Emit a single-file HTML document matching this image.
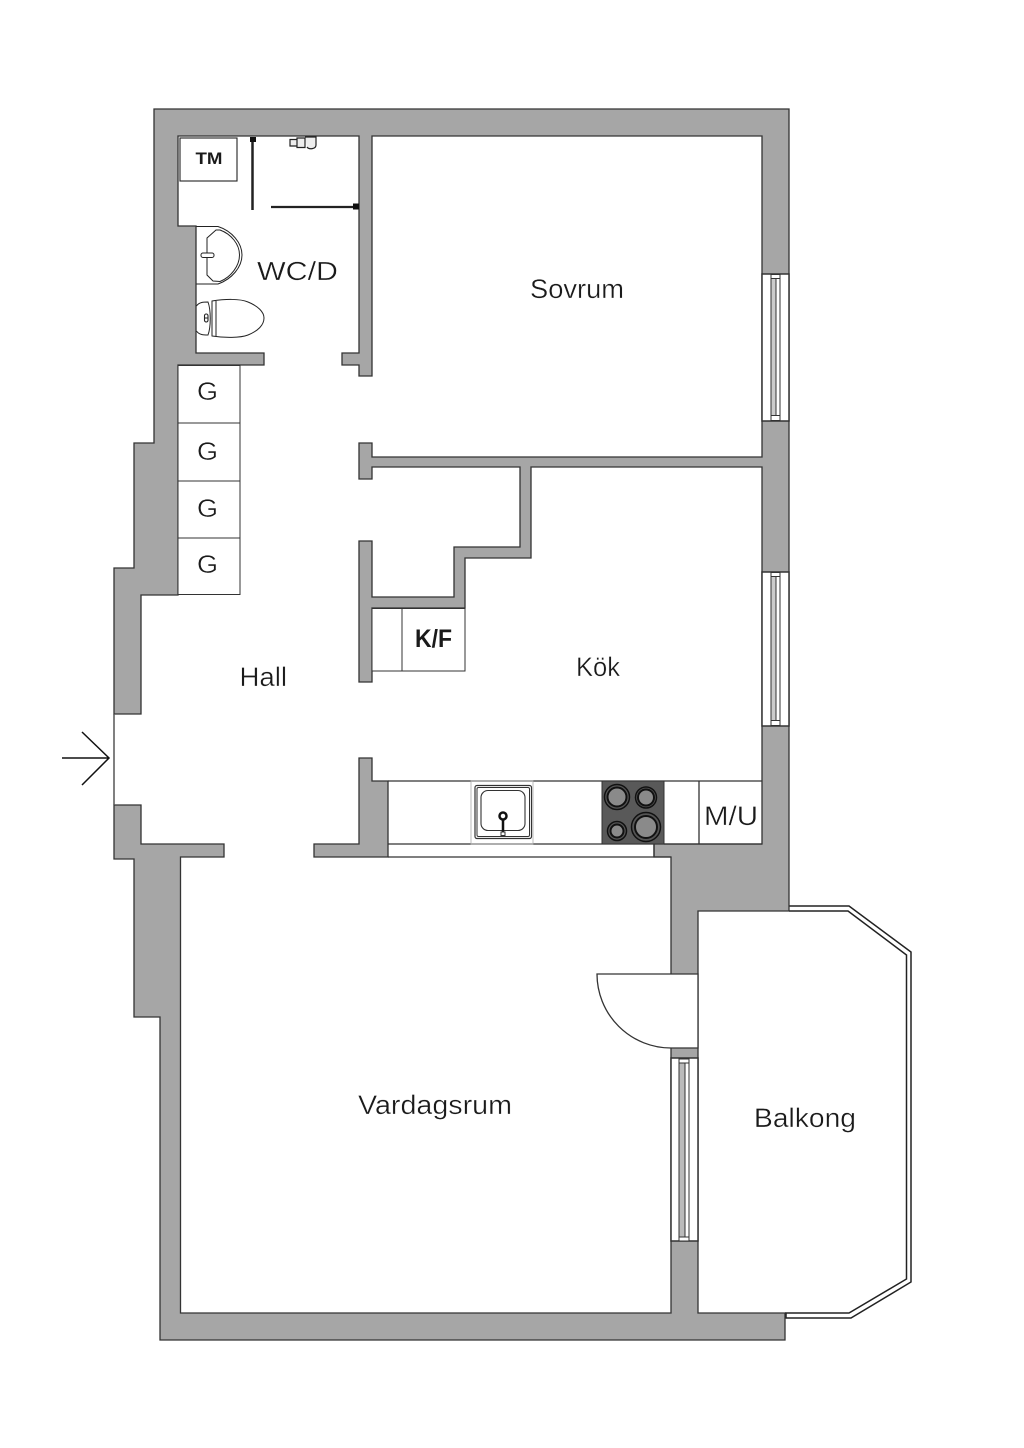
<!DOCTYPE html>
<html>
<head>
<meta charset="utf-8">
<style>
html,body{margin:0;padding:0;background:#fff;}
svg{display:block;}
text{font-family:"Liberation Sans",sans-serif;fill:#1a1a1a;}
.l{stroke:#fff;stroke-width:0.35;}
</style>
</head>
<body>
<svg width="1024" height="1448" viewBox="0 0 1024 1448" xmlns="http://www.w3.org/2000/svg">
<rect width="1024" height="1448" fill="#fff"/>
<!-- balcony rail -->
<path d="M789 906H849L911 952V1282L851 1318H786V1313" fill="none" stroke="#222" stroke-width="1.5"/>
<path d="M789 911H848L906.500 955V1279L849 1313H785" fill="none" stroke="#222" stroke-width="1.5"/>
<!-- main wall -->
<path fill="#a6a6a6" stroke="#333" stroke-width="1.3" stroke-linejoin="miter" d="M154 109H789V911H698V1313H785V1340H160V1017H134V859H114V805H141V844H224V857H180.500V1313H671V857H654V844H762V467H531V558H465V608H372V682H359V541H372V597H454V547H520V467H372V479H359V443H372V457H762V136H372V376H359V365H342V353H359V136H178V226H196V353H264V365H178V595H141V714H114V568H134V443H154Z"/>
<path fill="#a6a6a6" stroke="#333" stroke-width="1.300" d="M359 758H372V781H388V857H314V844H359Z"/>
<!-- entrance -->
<line x1="114" y1="714" x2="114" y2="805" stroke="#555" stroke-width="1.500"/>
<path d="M62 758H109M82 732L109 758L82 785" fill="none" stroke="#111" stroke-width="1.500"/>
<!-- balcony door -->
<rect x="671" y="974" width="27" height="74" fill="#fff"/>
<path d="M597 974H698V1048H671A74 74 0 0 1 597 974Z" fill="#fff" stroke="#333" stroke-width="1.300"/>
<!-- window 3 -->
<g stroke="#333" fill="none">
<rect x="671" y="1058" width="27" height="183" fill="#fff" stroke-width="1.500"/>
<rect x="679" y="1063" width="6" height="174" fill="#bbb" stroke-width="1"/>
<rect x="685" y="1063" width="4" height="174" fill="#fff" stroke-width="1"/>
<rect x="679" y="1059" width="10" height="4" fill="#fff" stroke-width="1"/>
<rect x="679" y="1237" width="10" height="4" fill="#fff" stroke-width="1"/>
</g>
<!-- window 1 -->
<g stroke="#333" fill="none">
<rect x="762" y="274" width="27" height="147" fill="#fff" stroke-width="1.500"/>
<rect x="771" y="278" width="5" height="138" fill="#ccc" stroke-width="1"/>
<rect x="776" y="278" width="4" height="138" fill="#fff" stroke-width="1"/>
<rect x="771" y="274.500" width="9" height="4" fill="#fff" stroke-width="1"/>
<rect x="771" y="415.500" width="9" height="5" fill="#fff" stroke-width="1"/>
</g>
<!-- window 2 -->
<g stroke="#333" fill="none">
<rect x="762" y="572" width="27" height="154" fill="#fff" stroke-width="1.500"/>
<rect x="771" y="576" width="5" height="145" fill="#ccc" stroke-width="1"/>
<rect x="776" y="576" width="4" height="145" fill="#fff" stroke-width="1"/>
<rect x="771" y="572.500" width="9" height="4" fill="#fff" stroke-width="1"/>
<rect x="771" y="720.500" width="9" height="5" fill="#fff" stroke-width="1"/>
</g>
<!-- kitchen counter -->
<g stroke="#333" stroke-width="1.300" fill="none">
<line x1="388" y1="781" x2="762" y2="781"/>
<line x1="388" y1="844" x2="654" y2="844"/>
<line x1="388" y1="857" x2="671" y2="857"/>
<line x1="654" y1="844" x2="654" y2="857"/>
<line x1="699" y1="781" x2="699" y2="844"/>
<line x1="664" y1="844" x2="762" y2="844"/>
</g>
<!-- sink -->
<g fill="none" stroke="#333">
<rect x="471" y="781" width="62" height="63" stroke="#aaa" stroke-width="0.800"/>
<rect x="475" y="785.500" width="56.500" height="53" rx="2" stroke-width="1.200"/>
<rect x="477" y="787.500" width="52.500" height="49" rx="1.500" stroke-width="1"/>
<rect x="481" y="790.500" width="44" height="40" rx="7" stroke-width="1.100"/>
<line x1="503" y1="819" x2="503" y2="833" stroke="#111" stroke-width="2.500"/>
<circle cx="503" cy="816" r="3.500" stroke="#111" stroke-width="2.500" fill="#fff"/>
<rect x="501" y="832" width="4" height="3.500" stroke-width="1" fill="#fff"/>
</g>
<!-- hob -->
<rect x="602" y="781" width="62" height="63" fill="#595959" stroke="#333"/>
<g fill="#8a8a8a" stroke="#111">
<circle cx="617" cy="797" r="12.500" stroke-width="1.500" fill="#555"/><circle cx="617" cy="797" r="9.500" stroke-width="2"/>
<circle cx="646" cy="797.500" r="10.500" stroke-width="1.500" fill="#555"/><circle cx="646" cy="797.500" r="8" stroke-width="2"/>
<circle cx="617" cy="831" r="9.500" stroke-width="1.500" fill="#555"/><circle cx="617" cy="831" r="6.500" stroke-width="2"/>
<circle cx="646" cy="827" r="14.500" stroke-width="1.500" fill="#555"/><circle cx="646" cy="827" r="11" stroke-width="2"/>
</g>
<!-- closets -->
<g fill="#fff" stroke="#333" stroke-width="1">
<rect x="178" y="365.500" width="62" height="229"/>
<line x1="178" y1="423" x2="240" y2="423"/>
<line x1="178" y1="481" x2="240" y2="481"/>
<line x1="178" y1="538" x2="240" y2="538"/>
<rect x="372" y="608.500" width="93" height="62.500"/>
<line x1="402" y1="608" x2="402" y2="671"/>
</g>
<!-- bathroom fixtures -->
<g fill="none" stroke="#222" stroke-width="1">
<rect x="180" y="138" width="57" height="43" stroke-width="1.100"/>
<path d="M196.500 226.500H218C232 231 242 243 242 255C242 267 232 279 218 284H196.500"/>
<path d="M207 238L216 230H220C231 234 239.500 244 239.500 255C239.500 266 231 277 220 281.500L213 281L207 275Z"/>
<rect x="201" y="253" width="13" height="4.500" rx="2" fill="#fff"/>
<path d="M196.500 306C199 302 204 302 208 302C211 310 211 327 208 335C204 335 199 335 196.500 331"/>
<path d="M212 301C225 299 240 298.500 248 302C258 306 264 312 264 318C264 325 258 331 248 335C240 338 225 338 212 336Z"/>
<line x1="216" y1="301" x2="216" y2="336"/>
<rect x="204.500" y="314" width="3.500" height="8" rx="1.700" stroke-width="1.100"/>
<line x1="204.500" y1="318" x2="208" y2="318"/>
</g>
<!-- shower -->
<g stroke="#222" fill="none">
<line x1="252.500" y1="138" x2="252.500" y2="210" stroke-width="2.500"/>
<rect x="250" y="137" width="6" height="5" fill="#111" stroke="none"/>
<line x1="271" y1="207" x2="358" y2="207" stroke-width="2.200"/>
<rect x="353" y="203.500" width="6" height="6" fill="#111" stroke="none"/>
<path d="M290 139.500H297V146H290ZM297 138H305V147.500H297ZM305 137H316V145C316 149 309 150 307 147" stroke-width="1.200" fill="#eee"/>
</g>
<!-- labels -->
<text x="195.500" y="164" font-size="16.500" font-weight="bold" textLength="27" lengthAdjust="spacingAndGlyphs">TM</text>
<text class="l" x="257" y="280" font-size="26" textLength="81" lengthAdjust="spacingAndGlyphs">WC/D</text>
<text class="l" x="197" y="400" font-size="25" textLength="21" lengthAdjust="spacingAndGlyphs">G</text>
<text class="l" x="197" y="460" font-size="25" textLength="21" lengthAdjust="spacingAndGlyphs">G</text>
<text class="l" x="197" y="517" font-size="25" textLength="21" lengthAdjust="spacingAndGlyphs">G</text>
<text class="l" x="197" y="573" font-size="25" textLength="21" lengthAdjust="spacingAndGlyphs">G</text>
<text class="l" x="530" y="298" font-size="27" textLength="94" lengthAdjust="spacingAndGlyphs">Sovrum</text>
<text class="l" x="239.500" y="686" font-size="27" textLength="47.500" lengthAdjust="spacingAndGlyphs">Hall</text>
<text class="l" x="576" y="676" font-size="27" textLength="44" lengthAdjust="spacingAndGlyphs">Kök</text>
<text x="415" y="647" font-size="25" font-weight="bold" textLength="37" lengthAdjust="spacingAndGlyphs">K/F</text>
<text class="l" x="704" y="825" font-size="27" textLength="54" lengthAdjust="spacingAndGlyphs">M/U</text>
<text class="l" x="358" y="1114" font-size="27" textLength="154" lengthAdjust="spacingAndGlyphs">Vardagsrum</text>
<text class="l" x="754" y="1127" font-size="27" textLength="102" lengthAdjust="spacingAndGlyphs">Balkong</text>
</svg>
</body>
</html>
